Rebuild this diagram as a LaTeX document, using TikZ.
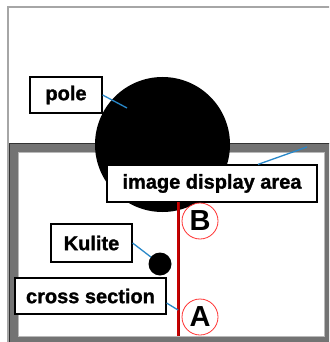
\documentclass[tikz,border=0pt]{standalone}
\usepackage{fontspec}
\setmainfont{Liberation Sans}
\newfontfamily\heavyfont{Liberation Sans}[BoldFeatures={FakeBold=1.3}]
\usepackage{xcolor}
\usepackage{tikz}
\definecolor{leadblue}{RGB}{40,135,200}
\definecolor{framegray}{RGB}{115,115,115}
\definecolor{cutred}{RGB}{200,0,0}

\begin{document}
\begin{tikzpicture}[x=1pt, y=-1pt,
    labelbox/.style={draw, line width=1.2pt, fill=white, minimum height=36pt, inner sep=0pt, font=\fontsize{20}{20}\heavyfont\bfseries},
    marker/.style={circle, draw=red!80, line width=0.8pt, minimum size=36pt, inner sep=0pt, font=\fontsize{29}{29}\selectfont\bfseries},
    lead/.style={draw=leadblue, line width=1.3pt}
]
\useasboundingbox (0,0) rectangle (329,342);
\clip (0,0) rectangle (329,342);
\fill[white] (0,0) rectangle (329,342);
% outer frame
\draw[gray!70, line width=2pt] (8,7) rectangle (345,355);
% image display area frame
\fill[framegray] (9,143) rectangle (345,355);
\draw[gray!40!black, line width=1pt] (9,143) rectangle (345,355);
\fill[white] (18,152) rectangle (324,336);
\draw[gray!55, line width=1pt] (18,152) rectangle (324,336);
% pole
\node[circle, fill, minimum size=135pt, inner sep=0pt] (pole) at (162.5,144.5) {};
\coordinate (poletip) at (127,108);
\coordinate (areatip) at (307,147);
\coordinate (cuttop) at (178,202);
\coordinate (cutbot) at (178,336);
\coordinate (kulitepos) at (160,264);
% labels
\node[labelbox, minimum width=72pt] (polelbl) at (66,95) {pole};
\draw[lead] (polelbl.east) -- (poletip);
\node[labelbox, minimum width=210pt, minimum height=37pt] (area) at (212,183.5) {image display area};
\draw[lead] ([xshift=46pt]area.north) -- (areatip);
\draw[cutred!80!black, line width=3pt] (cuttop) -- (cutbot);
\draw[cutred, line width=1.2pt] (cuttop) -- (cutbot);
\node[labelbox, minimum width=81pt, minimum height=38pt] (kulitelbl) at (91.5,243) {Kulite};
\draw[lead] (kulitelbl.east) -- (kulitepos);
\node[circle, fill, minimum size=23pt, inner sep=0pt] (kulite) at (kulitepos) {};
\node[labelbox, minimum width=151pt] (cross) at (90.5,296) {cross section};
\draw[lead] ([yshift=-7pt]cross.east) -- (cutbot |- 0,310);
% section ends
\node[marker] (endB) at (200,221) {B};
\node[marker] (endA) at (200,317) {A};
\end{tikzpicture}
\end{document}
